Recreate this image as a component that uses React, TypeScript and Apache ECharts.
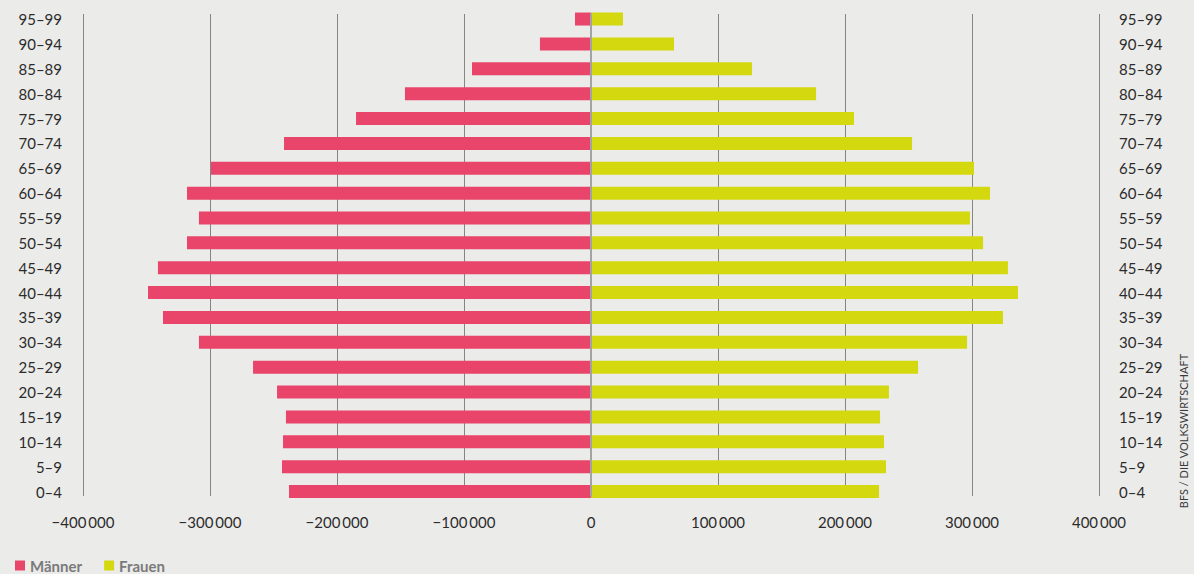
import React, { useEffect, useRef } from "react";
import * as echarts from "echarts";

const ageGroups = [
  "0–4", "5–9", "10–14", "15–19", "20–24", "25–29", "30–34", "35–39", "40–44", "45–49",
  "50–54", "55–59", "60–64", "65–69", "70–74", "75–79", "80–84", "85–89", "90–94", "95–99",
];
const maenner = [
  237800, 243300, 242500, 240200, 247200, 266100, 308700, 337000, 348800, 341000,
  318100, 308700, 318100, 299200, 241700, 185000, 146500, 93700, 40200, 12600,
];
const frauen = [
  226800, 232300, 230700, 227600, 234600, 257500, 296100, 324400, 336200, 328300,
  308700, 298400, 314200, 301600, 252800, 207100, 177200, 126800, 65400, 25200,
];
const xTicks = [-400000, -300000, -200000, -100000, 0, 100000, 200000, 300000, 400000];
const sourceText = "BFS / DIE VOLKSWIRTSCHAFT";

const FONT = "Lato";

function fmt(v: number): string {
  const a = Math.abs(v);
  const s = a === 0 ? "0" : String(a).replace(/\B(?=(\d{3})+(?!\d))/g, "\u2009");
  return v < 0 ? "\u2212" + s : s;
}

export default function App() {
  const ref = useRef<HTMLDivElement>(null);
  useEffect(() => {
    if (!ref.current) return;
    const chart = echarts.init(ref.current, undefined, { renderer: "svg" });
    const gridLeft = 83;
    const gridRight = 95;
    const splitColors = xTicks.map((t) => (t === 0 ? "rgba(0,0,0,0)" : "#858585"));
    chart.setOption({
      animation: false,
      backgroundColor: "#ebebea",
      textStyle: { fontFamily: FONT },
      grid: [
        { left: gridLeft, right: gridRight, top: 6.6, bottom: 70 },
        { left: gridLeft, right: gridRight, top: 14, bottom: 78 },
      ],
      legend: {
        left: 10,
        top: 553,
        icon: "rect",
        itemWidth: 10,
        itemHeight: 10,
        itemGap: 22,
        textStyle: { color: "#7a7a7a", fontWeight: "bold", fontSize: 15, fontFamily: FONT },
        data: ["Männer", "Frauen"],
      },
      xAxis: [
        {
          type: "value",
          gridIndex: 0,
          min: -400000,
          max: 400000,
          interval: 100000,
          axisLine: { show: false },
          axisTick: { show: false },
          splitLine: { show: false },
          axisLabel: {
            color: "#2b2b2b",
            fontSize: 15,
            margin: 10,
            fontFamily: FONT,
            formatter: (v: number) => fmt(v),
          },
        },
        {
          type: "value",
          gridIndex: 1,
          min: -400000,
          max: 400000,
          interval: 100000,
          axisLine: { show: false },
          axisTick: { show: false },
          axisLabel: { show: false },
          splitLine: { show: true, lineStyle: { color: splitColors, width: 1 } },
        },
      ],
      yAxis: [
        {
          type: "category",
          gridIndex: 0,
          data: ageGroups,
          position: "left",
          axisLine: { show: false },
          axisTick: { show: false },
          axisLabel: { color: "#2b2b2b", fontSize: 15, margin: 21, fontFamily: FONT },
        },
        {
          type: "category",
          gridIndex: 0,
          data: ageGroups,
          position: "right",
          axisLine: { show: false },
          axisTick: { show: false },
          axisLabel: { color: "#2b2b2b", fontSize: 15, margin: 20, fontFamily: FONT },
        },
        {
          type: "value",
          gridIndex: 1,
          min: 0,
          max: 1,
          z: 5,
          axisLine: { show: true, onZero: true, lineStyle: { color: "#a3a3a3", width: 2 } },
          axisTick: { show: false },
          axisLabel: { show: false },
          splitLine: { show: false },
        },
      ],
      series: [
        {
          name: "Männer",
          type: "bar",
          xAxisIndex: 0,
          yAxisIndex: 0,
          stack: "pop",
          barWidth: 13,
          itemStyle: { color: "#e9446a" },
          data: maenner.map((v) => -v),
        },
        {
          name: "Frauen",
          type: "bar",
          xAxisIndex: 0,
          yAxisIndex: 0,
          stack: "pop",
          barWidth: 13,
          itemStyle: { color: "#d4d90f" },
          data: frauen,
        },
      ],
      graphic: [
        {
          type: "text",
          x: 1183,
          y: 431,
          rotation: Math.PI / 2,
          style: {
            text: sourceText,
            fill: "#3a3a3a",
            fontSize: 11,
            fontFamily: FONT,
            align: "center",
            verticalAlign: "middle",
          },
        },
      ],
    });
    return () => chart.dispose();
  }, []);
  return (
    <div
      ref={ref}
      style={{ position: "absolute", left: 0, top: 0, width: 1194, height: 574 }}
    />
  );
}
